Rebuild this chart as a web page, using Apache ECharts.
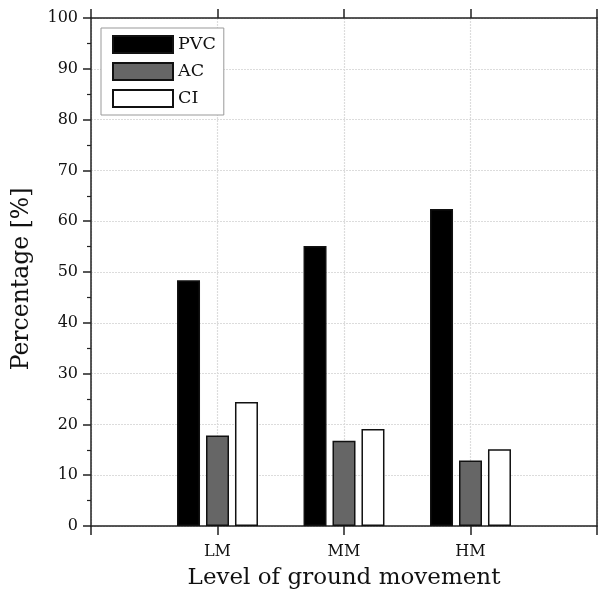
<!DOCTYPE html>
<html><head><meta charset="utf-8">
<script src="https://cdn.jsdelivr.net/npm/echarts@6/dist/echarts.min.js"></script>
<style>html,body{margin:0;padding:0;background:#fff}#c{width:600px;height:595px}</style>
</head><body><div id="c"></div>
<script>
const categories = ['LM', 'MM', 'HM'];
const seriesNames = ['PVC', 'AC', 'CI'];
const pvc = [48.4, 55.1, 62.4];
const ac = [17.8, 16.8, 12.9];
const ci = [24.4, 19.1, 15.1];
const yTicks = [0, 10, 20, 30, 40, 50, 60, 70, 80, 90, 100];

const FONT = 'DejaVu Serif';
const fills = ['#000000', '#666666', '#ffffff'];
const values = [pvc, ac, ci];

const chart = echarts.init(document.getElementById('c'), null, {renderer: 'canvas'});
const axisLine = {show: true, onZero: false, lineStyle: {color: '#222', width: 1.5}};
const gridLine = {show: true, lineStyle: {color: '#dcdcdc', width: 1.2, type: [2, 1]}};
chart.setOption({
  animation: false,
  backgroundColor: '#fff',
  grid: {left: 91, right: 2, top: 18, bottom: 69, containLabel: false},
  legend: {
    data: seriesNames,
    orient: 'vertical',
    left: 101, top: 28,
    padding: [7, 8, 7, 11],
    itemWidth: 60, itemHeight: 17, itemGap: 8,
    backgroundColor: '#fff',
    borderColor: '#999', borderWidth: 1, borderRadius: 0,
    icon: 'rect',
    textStyle: {fontFamily: FONT, fontSize: 17.5, color: '#111'}
  },
  xAxis: [{
    type: 'value', min: 0, max: 4, interval: 1,
    position: 'bottom',
    name: 'Level of ground movement', nameLocation: 'middle', nameGap: 41,
    nameTextStyle: {fontFamily: FONT, fontSize: 23, color: '#111'},
    axisLine: axisLine,
    axisTick: {show: true, inside: false, length: 9, lineStyle: {color: '#222', width: 1.5}},
    axisLabel: {fontFamily: FONT, fontSize: 16, color: '#111', margin: 18,
      formatter: v => categories[v - 1] || ''},
    splitLine: gridLine
  }, {
    type: 'value', min: 0, max: 4, interval: 1,
    position: 'top',
    axisLine: axisLine,
    axisTick: {show: true, inside: false, length: 9, lineStyle: {color: '#222', width: 1.5}},
    axisLabel: {show: false},
    splitLine: {show: false}
  }],
  yAxis: [{
    type: 'value', min: yTicks[0], max: yTicks[yTicks.length - 1], interval: 10,
    position: 'left',
    name: 'Percentage [%]', nameLocation: 'middle', nameGap: 57,
    nameTextStyle: {fontFamily: FONT, fontSize: 23.5, color: '#111', padding: [0, 14, 0, 0]},
    axisLine: axisLine,
    axisTick: {show: true, inside: false, length: 8, lineStyle: {color: '#222', width: 1.5}},
    minorTick: {show: true, splitNumber: 2, length: 4, lineStyle: {color: '#222', width: 1.2}},
    axisLabel: {fontFamily: FONT, fontSize: 16, color: '#111', margin: 13},
    splitLine: gridLine
  }, {
    type: 'value', min: 0, max: 100, interval: 10,
    position: 'right',
    axisLine: axisLine,
    axisTick: {show: false},
    axisLabel: {show: false},
    splitLine: {show: false}
  }],
  series: seriesNames.map((n, i) => ({
    name: n,
    type: 'bar',
    xAxisIndex: 0, yAxisIndex: 0,
    barWidth: 23,
    barGap: '26%',
    itemStyle: {color: fills[i], borderColor: '#111', borderWidth: 1.5},
    data: values[i].map((v, j) => [j + 1, v])
  }))
});
</script></body></html>
